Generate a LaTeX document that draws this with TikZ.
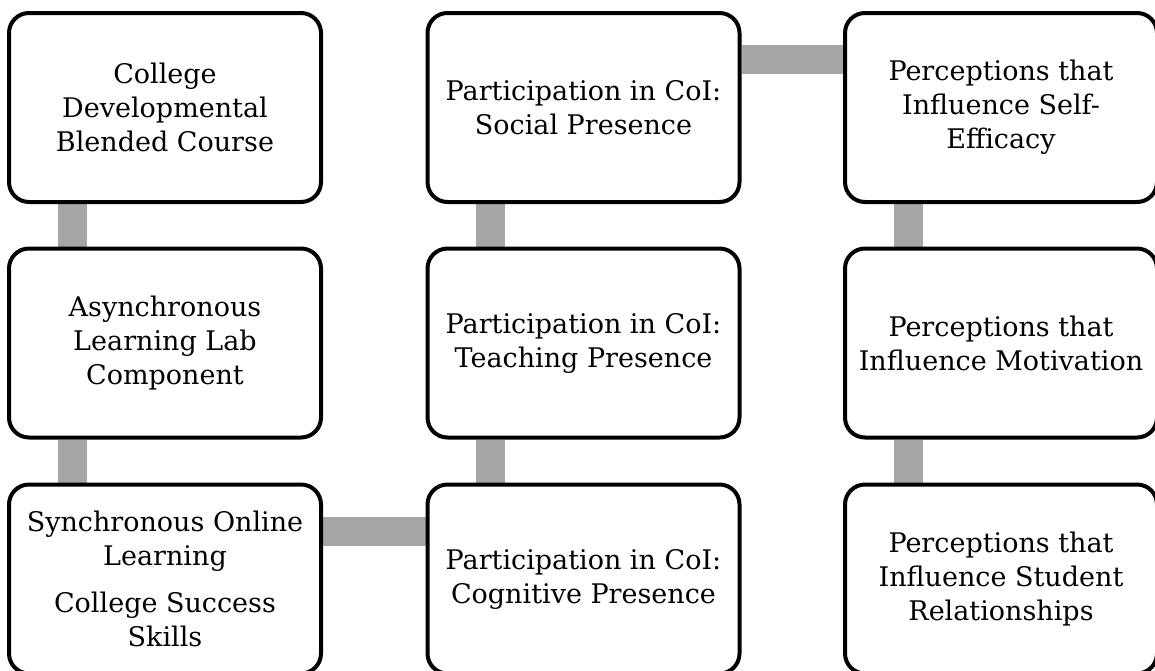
\documentclass[tikz,border=0pt]{standalone}
\usepackage{fontspec}
\setmainfont{DejaVu Serif}
\usetikzlibrary{backgrounds}
\definecolor{linkgrey}{HTML}{A6A6A6}
\tikzset{
  stage/.style={draw=black, line width=4pt, fill=white, rounded corners=20pt,
    minimum width=312pt, minimum height=189pt, inner sep=0pt, align=center,
    font=\fontsize{27}{34}\selectfont},
  link/.style={draw=linkgrey, line width=29pt}
}
\begin{document}
\begin{tikzpicture}[x=1pt, y=-1pt]
  \useasboundingbox (0,0) rectangle (1155,670);
  \clip (0,0) rectangle (1155,670);

  % first column
  \node[stage] (c1) at (165,107.5) {College\\Developmental\\Blended Course};
  \node[stage] (a1) at (165,343) {Asynchronous\\Learning Lab\\Component};
  \node[stage] (s1) at (165,579) {Synchronous Online\\Learning\\[13pt]College Success\\Skills};

  % second column
  \node[stage] (sp) at (583.5,107.5) {Participation in CoI:\\Social Presence};
  \node[stage] (tp) at (583.5,343) {Participation in CoI:\\Teaching Presence};
  \node[stage] (cp) at (583.5,579) {Participation in CoI:\\Cognitive Presence};

  % third column
  \node[stage] (se) at (1001,107.5) {Perceptions that\\Influence Self-\\Efficacy};
  \node[stage] (mo) at (1001,343) {Perceptions that\\Influence Motivation};
  \node[stage] (sr) at (1001,579) {Perceptions that\\Influence Student\\Relationships};

  % grey links behind the boxes
  \begin{scope}[on background layer]
    \draw[link] ([xshift=-92.5pt]c1.south) -- ([xshift=-92.5pt]a1.north);
    \draw[link] ([xshift=-92.5pt]a1.south) -- ([xshift=-92.5pt]s1.north);
    \draw[link] ([yshift=48pt]s1.east) -- ([yshift=48pt]cp.west);
    \draw[link] ([xshift=-93pt]cp.north) -- ([xshift=-93pt]tp.south);
    \draw[link] ([xshift=-93pt]tp.north) -- ([xshift=-93pt]sp.south);
    \draw[link] ([yshift=48.5pt]sp.east) -- ([yshift=48.5pt]se.west);
    \draw[link] ([xshift=-92.5pt]se.south) -- ([xshift=-92.5pt]mo.north);
    \draw[link] ([xshift=-92.5pt]mo.south) -- ([xshift=-92.5pt]sr.north);
  \end{scope}
\end{tikzpicture}
\end{document}
